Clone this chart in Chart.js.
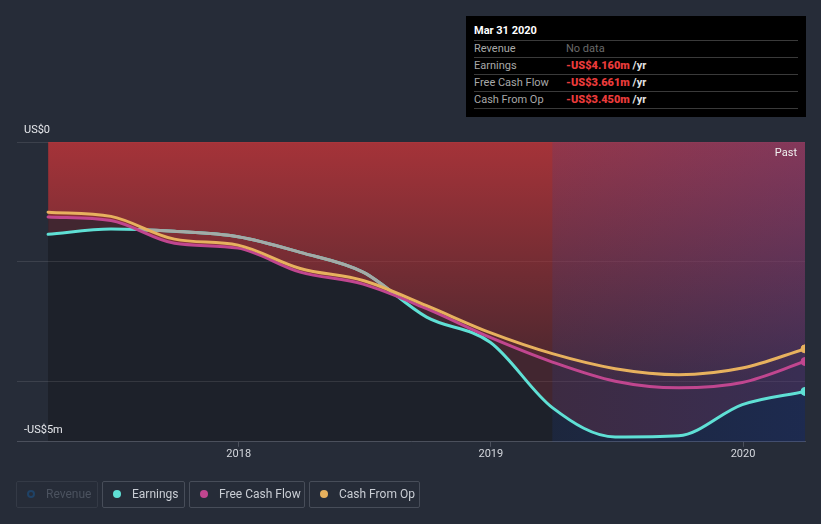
<!DOCTYPE html>
<html>
<head>
<meta charset="utf-8">
<script src="https://cdn.jsdelivr.net/npm/chart.js@4.4.1/dist/chart.umd.min.js"></script>
<style>
  body { margin:0; background:#262c38; font-family: Roboto, "Noto Sans", sans-serif; }
  #wrap { position:relative; width:821px; height:524px; overflow:hidden; }
  #tip { position:absolute; left:466px; top:16px; width:340px; height:101px; background:#000; font-size:11px; }
  #tip .title { position:absolute; left:8px; top:8px; line-height:14px; color:#fff; font-weight:bold; }
  #tip .sep { position:absolute; left:8px; width:324px; height:1px; background:#3a3a3a; }
  #tip .row { position:absolute; left:8px; width:324px; height:16px; line-height:16px; }
  #tip .lab { position:absolute; left:0; color:#a8a8a8; }
  #tip .val { position:absolute; left:92px; color:#e4e4e4; font-weight:bold; }
  #tip .val b { color:#ea3b3b; }
  #tip .val.nodata { color:#6a6a6a; font-weight:normal; }
  .leg { position:absolute; top:481px; height:27px; box-sizing:border-box; border:1px solid #474d59; border-radius:2px;
         color:#c9cdd4; font-size:12px; line-height:25px; padding-left:29px; white-space:nowrap; }
  .leg i { position:absolute; left:10px; top:8px; width:8px; height:8px; border-radius:50%; box-sizing:border-box; }
</style>
</head>
<body>
<div id="wrap">
  <canvas id="chart" width="821" height="524"></canvas>
  <div id="tip"></div>
  <div id="legend"></div>
</div>
<script>
// quarter ends, values in US$ millions
const dates = ['2017-03-31','2017-06-30','2017-09-30','2017-12-31','2018-03-31','2018-06-30','2018-09-30',
               '2018-12-31','2019-03-31','2019-06-30','2019-09-30','2019-12-31','2020-03-31'];
const earnings = [-1.54, -1.45, -1.49, -1.58, -1.84, -2.17, -2.92, -3.34, -4.43, -4.92, -4.90, -4.38, -4.16];
const freeCashFlow = [-1.25, -1.31, -1.69, -1.77, -2.17, -2.37, -2.78, -3.26, -3.67, -3.99, -4.10, -4.01, -3.661];
const cashFromOp = [-1.17, -1.24, -1.62, -1.72, -2.11, -2.31, -2.73, -3.18, -3.53, -3.78, -3.88, -3.77, -3.45];
const xTicks = [2018, 2019, 2020];
const yTicks = [0, -2, -4, -5];
const axisStart = '2017-02-14';
const pastStart = '2019-03-31';
const tipTitle = 'Mar 31 2020';

const colEarn = '#5fe0d5', colFcf = '#c0468f', colCfo = '#e7b15e';

function toYear(s) {
  const d = new Date(s + 'T00:00:00Z');
  const y = d.getUTCFullYear();
  const a = Date.UTC(y, 0, 1), b = Date.UTC(y + 1, 0, 1);
  return y + (d - a) / (b - a);
}
const xs = dates.map(toYear);
const pts = arr => arr.map((v, i) => ({ x: xs[i], y: v }));
const lastOnly = c => c.dataIndex === dates.length - 1 ? 4 : 0;

const bands = {
  id: 'bands',
  beforeDraw(chart) {
    const { ctx, chartArea: a, scales: { x } } = chart;
    const x0 = x.getPixelForValue(xs[0]);
    ctx.save();
    ctx.fillStyle = '#1d212a';
    ctx.fillRect(x0, a.top, a.right - x0, a.bottom - a.top);
    ctx.restore();
  },
  beforeDatasetsDraw(chart) {
    // "past" highlight, over the fills, under the lines
    const { ctx, chartArea: a, scales: { x } } = chart;
    const x0 = x.getPixelForValue(toYear(pastStart));
    const g = ctx.createLinearGradient(x0, 0, a.right, 0);
    g.addColorStop(0, 'rgba(25,75,190,0.13)');
    g.addColorStop(1, 'rgba(30,70,190,0.25)');
    ctx.save();
    ctx.fillStyle = g;
    ctx.fillRect(x0, a.top, a.right - x0, a.bottom - a.top);
    ctx.restore();
  },
  afterDatasetDraw(chart, args) {
    // earnings goes grey where it sits inside the red area
    if (args.index !== 0) return;
    const { ctx, chartArea: a } = chart;
    const fl = chart.getDatasetMeta(1).dataset;
    fl.updateControlPoints(a, 'x');
    const p = fl.points;
    ctx.save();
    ctx.beginPath();
    fl.path(ctx);
    ctx.lineTo(p[p.length - 1].x, a.top);
    ctx.lineTo(p[0].x, a.top);
    ctx.closePath();
    ctx.clip();
    ctx.beginPath();
    args.meta.dataset.path(ctx);
    ctx.strokeStyle = '#a4aaa6';
    ctx.lineWidth = 3;
    ctx.lineJoin = 'round';
    ctx.stroke();
    ctx.restore();
  },
  afterDraw(chart) {
    const { ctx, chartArea: a } = chart;
    ctx.save();
    ctx.font = '11px Roboto';
    ctx.fillStyle = '#f0f0f0';
    ctx.textAlign = 'right';
    ctx.textBaseline = 'middle';
    ctx.fillText('Past', a.right - 8, a.top + 11);
    ctx.restore();
  }
};

const redFill = c => {
  const a = c.chart.chartArea;
  if (!a) return 'rgba(0,0,0,0)';
  const g = c.chart.ctx.createLinearGradient(0, a.top, 0, a.bottom);
  g.addColorStop(0, 'rgba(195,55,60,0.82)');
  g.addColorStop(1, 'rgba(195,55,60,0.10)');
  return g;
};

new Chart(document.getElementById('chart'), {
  type: 'line',
  data: {
    datasets: [
      { label: 'Earnings', data: pts(earnings), borderColor: colEarn, backgroundColor: colEarn, order: 3,
        fill: { target: 1, above: 'rgba(0,0,0,0)', below: 'rgba(175,55,65,0.26)' } },
      { label: 'Free Cash Flow', data: pts(freeCashFlow), borderColor: colFcf, backgroundColor: redFill, order: 2,
        fill: 'end', pointBackgroundColor: colFcf },
      { label: 'Cash From Op', data: pts(cashFromOp), borderColor: colCfo, backgroundColor: colCfo, order: 1,
        fill: false }
    ]
  },
  options: {
    responsive: false,
    animation: false,
    events: [],
    devicePixelRatio: 1,
    layout: { padding: { left: 3, top: 142, right: 16, bottom: 62 } },
    elements: {
      line: { borderWidth: 3, cubicInterpolationMode: 'monotone', borderCapStyle: 'round' },
      point: { radius: lastOnly, borderWidth: 1, borderColor: '#e6e6ee' }
    },
    plugins: {
      legend: { display: false },
      tooltip: { enabled: false },
      filler: { drawTime: 'beforeDatasetsDraw' }
    },
    scales: {
      x: {
        type: 'linear',
        min: toYear(axisStart),
        max: xs[xs.length - 1],
        afterBuildTicks: s => { s.ticks = xTicks.map(v => ({ value: v })); },
        ticks: { callback: v => String(v), color: '#d4d7dd', font: { family: 'Roboto', size: 11 }, padding: 1, maxRotation: 0 },
        grid: { drawOnChartArea: false, drawTicks: true, tickLength: 5, color: '#4b505c' },
        border: { display: true, color: '#4b505c' }
      },
      y: {
        min: -5,
        max: 0,
        afterBuildTicks: s => { s.ticks = yTicks.map(v => ({ value: v })); },
        ticks: {
          mirror: true, padding: 7, labelOffset: -12,
          color: '#e6e8ec', font: { family: 'Roboto', size: 11 },
          callback: v => v === 0 ? 'US$0' : v === -5 ? '-US$5m' : ''
        },
        grid: { color: 'rgba(255,255,255,0.1)', drawTicks: false },
        border: { display: false }
      }
    }
  },
  plugins: [bands]
});

// tooltip box
const fmt = v => '-US$' + Math.abs(v).toFixed(3) + 'm';
const rows = [
  ['Revenue', null],
  ['Earnings', earnings[earnings.length - 1]],
  ['Free Cash Flow', freeCashFlow[freeCashFlow.length - 1]],
  ['Cash From Op', cashFromOp[cashFromOp.length - 1]]
];
const tip = document.getElementById('tip');
let html = '<div class="title">' + tipTitle + '</div>';
const seps = [24, 41, 58, 75, 92];
seps.forEach(y => { html += '<div class="sep" style="top:' + y + 'px"></div>'; });
rows.forEach((r, i) => {
  html += '<div class="row" style="top:' + (seps[i] + 1) + 'px"><span class="lab">' + r[0] + '</span>' +
    (r[1] === null ? '<span class="val nodata">No data</span>'
                   : '<span class="val"><b>' + fmt(r[1]) + '</b> /yr</span>') + '</div>';
});
tip.innerHTML = html;

// legend
const legItems = [
  { name: 'Revenue', left: 16, width: 82, dot: 'border:2px solid #1f4266', off: true },
  { name: 'Earnings', left: 102, width: 83, dot: 'background:' + colEarn },
  { name: 'Free Cash Flow', left: 189, width: 116, dot: 'background:' + colFcf },
  { name: 'Cash From Op', left: 309, width: 111, dot: 'background:' + colCfo }
];
document.getElementById('legend').innerHTML = legItems.map(l =>
  '<div class="leg" style="left:' + l.left + 'px;width:' + l.width + 'px;' +
  (l.off ? 'color:#4b525f;border-color:#343a46;' : '') + '"><i style="' + l.dot + '"></i>' + l.name + '</div>'
).join('');
</script>
</body>
</html>
